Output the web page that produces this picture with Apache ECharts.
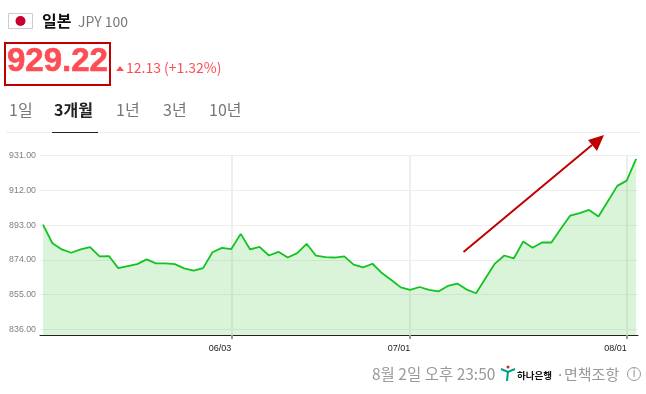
<!DOCTYPE html>
<html>
<head>
<meta charset="utf-8">
<title>JPY 100</title>
<script src="https://cdn.jsdelivr.net/npm/echarts@6/dist/echarts.min.js"></script>
<style>
  html, body { margin: 0; padding: 0; background: #fff; }
  #chart { width: 646px; height: 394px; }
</style>
</head>
<body>
<div id="chart"></div>
<script>
// rate per trading day
const rates = [
  893.3, 883.1, 879.7, 877.9, 879.7, 881.0, 875.9, 876.1, 869.5, 870.6,
  871.7, 874.3, 872.1, 872.1, 871.7, 869.4, 868.1, 869.5, 878.2, 880.6,
  879.9, 888.2, 879.7, 881.1, 876.4, 878.4, 875.3, 877.7, 882.8, 876.3,
  875.5, 875.3, 875.9, 871.4, 869.9, 871.9, 866.8, 863.0, 859.0, 857.6,
  859.2, 857.6, 856.8, 859.8, 861.1, 857.8, 855.8, 864.0, 872.0, 876.4,
  874.8, 884.0, 880.6, 883.5, 883.5, 891.0, 898.2, 899.5, 901.3, 897.7,
  906.0, 914.4, 917.3, 929.2
];
const yTicks = [836, 855, 874, 893, 912, 931];
const dateIndexes = [20, 39, 62];
const dateLabels = ["06/03", "07/01", "08/01"];
const tabs = ["1일", "3개월", "1년", "3년", "10년"];

const KR = '"Noto Sans CJK KR", sans-serif';
const LATIN = '"Liberation Sans", sans-serif';
const RED = "#ff4d55";

function label(x, y, text, size, fill, weight, family, align) {
  return {
    type: "text", x: x, y: y, z: 100, silent: true,
    style: {
      text: text, fontSize: size, fill: fill, fontWeight: weight || "normal",
      fontFamily: family || KR, align: align || "left", verticalAlign: "middle"
    }
  };
}

function shape(type, sh, style) {
  return { type: type, z: 100, silent: true, shape: sh, style: style };
}

const tabX = [9, 54, 116, 163, 209];
const header = [
  // 국기
  shape("rect", { x: 8.5, y: 13.5, width: 24, height: 15 }, { fill: "#fff", stroke: "#ccc" }),
  shape("circle", { cx: 20.5, cy: 21, r: 5 }, { fill: "#c8002f" }),
  label(42, 21, "일본", 16, "#111", "bold"),
  label(78, 22, "JPY 100", 14, "#777", "normal", KR),
  // 현재가
  shape("rect", { x: 5, y: 43, width: 105, height: 42 }, { fill: "none", stroke: "#c00000", lineWidth: 2 }),
  {
    type: "text", x: 7, y: 62, z: 100, silent: true,
    style: {
      text: "929.22", fontSize: 33, fill: RED, fontWeight: "bold", fontFamily: LATIN,
      stroke: RED, lineWidth: 0.6, verticalAlign: "middle"
    }
  },
  shape("polygon", { points: [[116, 71], [124, 71], [120, 66]] }, { fill: RED }),
  label(126, 68, "12.13 (+1.32%)", 14, RED, "normal", KR),
  // 탭
  shape("line", { x1: 6, y1: 132.5, x2: 640, y2: 132.5 }, { stroke: "#eee" }),
  shape("line", { x1: 52, y1: 132.5, x2: 98, y2: 132.5 }, { stroke: "#222" }),
  // 화살표
  shape("line", { x1: 463.5, y1: 252, x2: 592, y2: 145 }, { stroke: "#c00000", lineWidth: 2 }),
  shape("polygon", { points: [[604, 135], [597, 151], [588, 140]] }, { fill: "#c00000" }),
  // 하단
  label(372, 374, "8월 2일 오후 23:50", 15.5, "#999"),
  shape("circle", { cx: 508, cy: 367, r: 1.5 }, { fill: "#d8232a" }),
  shape("polyline", { points: [[501, 369], [508, 372], [515, 369]] }, { fill: "none", stroke: "#009b8d", lineWidth: 2 }),
  shape("line", { x1: 508, y1: 371, x2: 507, y2: 381 }, { stroke: "#009b8d", lineWidth: 2 }),
  label(517, 375, "하나은행", 9.5, "#111", "bold"),
  label(556, 374, "·", 15, "#999"),
  label(564, 374, "면책조항", 15, "#999"),
  shape("circle", { cx: 634, cy: 374, r: 6.5 }, { fill: "none", stroke: "#999" }),
  label(634, 374, "i", 12, "#999", "normal", LATIN, "center")
];
tabs.forEach(function (t, i) {
  header.push(label(tabX[i], 110, t, 16, i === 1 ? "#222" : "#777", i === 1 ? "bold" : "normal"));
});

const chart = echarts.init(document.getElementById("chart"), null, { renderer: "canvas" });
chart.setOption({
  animation: false,
  grid: { left: 40, right: 8, top: 155.5, bottom: 59, containLabel: false },
  xAxis: {
    type: "value",
    min: -0.32,
    max: 63.2,
    axisLine: { show: true, onZero: false, lineStyle: { color: "#222", width: 1 } },
    axisTick: { show: true, customValues: dateIndexes, length: 4, lineStyle: { color: "#999", width: 2 } },
    splitLine: { show: true, lineStyle: { color: "#eee", width: 2 } },
    axisLabel: {
      customValues: dateIndexes,
      formatter: function (v) { return dateLabels[dateIndexes.indexOf(v)]; },
      color: "#222", fontSize: 9, fontFamily: LATIN, align: "right", margin: 7,
      padding: [2, 0, 0, 0],
      showMinLabel: true, showMaxLabel: true
    }
  },
  yAxis: {
    type: "value",
    min: 833,
    max: 931,
    axisLine: { show: false },
    axisTick: { show: false, customValues: yTicks },
    splitLine: { show: true, lineStyle: { color: "#eee", width: 1 } },
    axisLabel: {
      customValues: yTicks,
      formatter: function (v) { return v.toFixed(2); },
      color: "#808080", fontSize: 8.8, fontFamily: LATIN, margin: 4, padding: [4, 0, 0, 0],
      showMinLabel: true, showMaxLabel: true
    }
  },
  series: [{
    type: "line",
    data: rates.map(function (v, i) { return [i, v]; }),
    symbol: "none",
    smooth: false,
    clip: false,
    lineStyle: { color: "#11c41f", width: 1.8 },
    areaStyle: { color: "rgba(80, 205, 80, 0.22)", opacity: 1, origin: "start" }
  }],
  graphic: header
});
</script>
</body>
</html>
